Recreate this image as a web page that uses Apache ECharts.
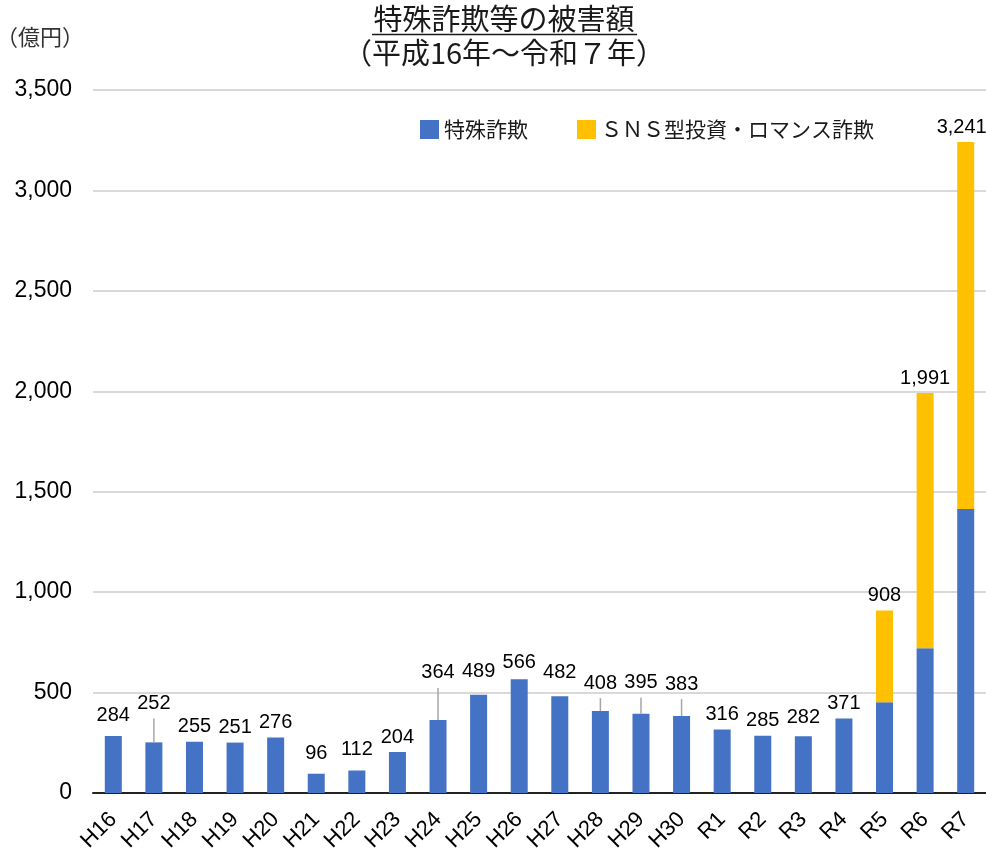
<!DOCTYPE html>
<html>
<head>
<meta charset="utf-8">
<script src="https://cdn.jsdelivr.net/npm/echarts@6/dist/echarts.min.js"></script>
<style>html,body{margin:0;padding:0;background:#fff;}#chart{width:986px;height:856px;}</style>
</head>
<body>
<div id="chart"></div>
<script>
// ---- data ----
const categories = ['H16','H17','H18','H19','H20','H21','H22','H23','H24','H25','H26','H27','H28','H29','H30','R1','R2','R3','R4','R5','R6','R7'];
const tokushuSagi = [284,252,255,251,276,96,112,204,364,489,566,482,408,395,383,316,285,282,371,452,721,1414];
const snsSagi = [null,null,null,null,null,null,null,null,null,null,null,null,null,null,null,null,null,null,null,456,1270,1827];
const yTicks = [0,500,1000,1500,2000,2500,3000,3500];
const seriesNames = ['特殊詐欺','ＳＮＳ型投資・ロマンス詐欺'];
const titleText = '特殊詐欺等の被害額';
const subtitleText = '（平成16年～令和７年）';
const unitText = '（億円）';

// ---- label styling (pixel lifts for manually placed labels) ----
const labelLift = {H16:5,H17:24,H21:5,H22:6,H24:32,H25:8,H26:2,H27:9,H28:13,H29:16,H30:17,R3:4};
const leaderLines = ['H17','H24','H28','H29','H30'];
const labelShiftX = {R7:-4};

const totals = categories.map((c,i)=> (tokushuSagi[i]||0) + (snsSagi[i]||0));
const fmt = v => Number(v).toLocaleString('en-US');

const NUMFONT = '"Liberation Sans", Arial, sans-serif';
const JPFONT = '"Noto Sans CJK JP", sans-serif';

const chart = echarts.init(document.getElementById('chart'));
chart.setOption({
  animation:false,
  backgroundColor:'#fff',
  grid:{left:93,right:0,top:90,bottom:63,containLabel:false},
  legend:{
    data:seriesNames,
    left:415, top:114,
    itemWidth:19, itemHeight:19, itemGap:49,
    icon:'rect',
    textStyle:{fontSize:21,fontFamily:JPFONT,color:'#1a1a1a'}
  },
  graphic:[
    {type:'text', x:504, y:19, style:{text:titleText, align:'center', verticalAlign:'middle', fontSize:29, fontFamily:JPFONT, fill:'#1a1a1a'}},
    {type:'line', shape:{x1:372,y1:34.5,x2:637,y2:34.5}, style:{stroke:'#1a1a1a', lineWidth:1.5}},
    {type:'text', x:504, y:53, style:{text:subtitleText, align:'center', verticalAlign:'middle', fontSize:29, fontFamily:JPFONT, fill:'#1a1a1a'}},
    {type:'text', x:-4, y:37, style:{text:unitText, align:'left', verticalAlign:'middle', fontSize:22, fontFamily:JPFONT, fill:'#333'}}
  ],
  xAxis:{
    type:'category',
    data:categories,
    axisLine:{show:true,lineStyle:{color:'#222',width:2}},
    axisTick:{show:false},
    axisLabel:{rotate:45, fontSize:22, fontFamily:NUMFONT, color:'#000', margin:23, interval:0}
  },
  yAxis:{
    type:'value',
    min:yTicks[0], max:yTicks[yTicks.length-1], interval:500,
    axisLine:{show:false}, axisTick:{show:false},
    splitLine:{lineStyle:{color:'#d9d9d9',width:2}},
    axisLabel:{fontSize:23, fontFamily:NUMFONT, color:'#000', margin:21, formatter:v=>fmt(v)}
  },
  series:[
    {name:seriesNames[0], type:'bar', stack:'total', data:tokushuSagi, barWidth:17, itemStyle:{color:'#4472C4'}},
    {name:seriesNames[1], type:'bar', stack:'total', data:snsSagi, barWidth:17, itemStyle:{color:'#FFC000'}},
    {
      name:'合計', type:'custom', silent:true, z:10,
      data: categories.map((c,i)=>[i, totals[i]]),
      renderItem:function(params, api){
        const i = api.value(0), v = api.value(1);
        const p = api.coord([i, v]);
        const cat = categories[i];
        const lift = labelLift[cat] || 0;
        const cy = p[1] - 15 - lift;
        const children = [];
        if (leaderLines.indexOf(cat) >= 0) {
          children.push({type:'line', shape:{x1:p[0], y1:p[1], x2:p[0], y2:cy+15}, style:{stroke:'#a6a6a6', lineWidth:1.5}});
        }
        children.push({type:'text', x:p[0] + (labelShiftX[cat]||0), y:cy, style:{text:fmt(v), align:'center', verticalAlign:'middle', fontSize:20, fontFamily:NUMFONT, fill:'#000'}});
        return {type:'group', children};
      }
    }
  ]
});
</script>
</body>
</html>
